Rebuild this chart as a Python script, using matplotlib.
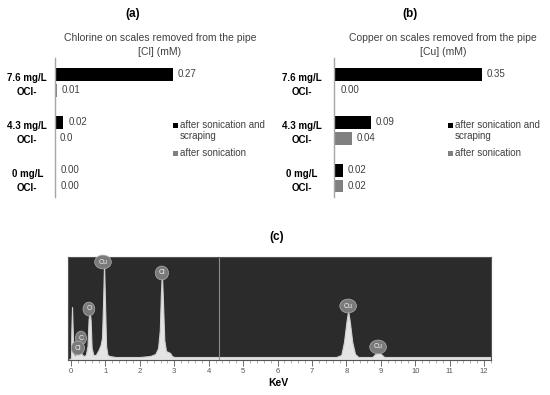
import matplotlib
matplotlib.use("Agg")
import matplotlib.pyplot as plt
import numpy as np
from matplotlib.ticker import MultipleLocator
from matplotlib.patches import Rectangle

plt.rcParams['font.family'] = ['Liberation Sans', 'DejaVu Sans']

# ---------------- data ----------------
categories = ["7.6 mg/L\nOCl-", "4.3 mg/L\nOCl-", "0 mg/L\nOCl-"]
series_names = ["after sonication and\nscraping", "after sonication"]
series_colors = ["#000000", "#808080"]

cl_scraping = [0.27, 0.019, 0.002]
cl_sonication = [0.005, 0.0, 0.001]
cl_scraping_labels = ["0.27", "0.02", "0.00"]
cl_sonication_labels = ["0.01", "0.0", "0.00"]

cu_scraping = [0.35, 0.088, 0.021]
cu_sonication = [0.003, 0.043, 0.021]
cu_scraping_labels = ["0.35", "0.09", "0.02"]
cu_sonication_labels = ["0.00", "0.04", "0.02"]

# EDS spectrum outline (keV, counts in arbitrary units)
energy = [-0.08, 0.00, 0.01, 0.03, 0.05, 0.07, 0.12, 0.18, 0.22, 0.27, 0.31, 0.36,
          0.43, 0.48, 0.51, 0.54, 0.57, 0.60, 0.65, 0.72, 0.80, 0.86, 0.90, 0.93,
          0.96, 0.99, 1.02, 1.06, 1.12, 1.3, 1.6, 2.0, 2.3, 2.45, 2.53, 2.58, 2.61,
          2.64, 2.67, 2.71, 2.76, 2.82, 2.88, 2.93, 3.0, 3.5, 4.0, 5.0, 6.0, 7.0,
          7.7, 7.85, 7.93, 8.00, 8.05, 8.10, 8.17, 8.25, 8.35, 8.5, 8.75, 8.84,
          8.92, 9.00, 9.10, 9.5, 10.5, 11.5, 12.2]
counts = [0, 2, 30, 53, 30, 6, 4, 7, 5, 9, 6, 4,
          5, 14, 40, 50, 40, 12, 5, 5, 10, 15, 22, 55,
          97, 55, 14, 5, 4, 3, 3, 3, 4, 6, 12, 30, 65,
          88, 60, 20, 9, 8, 7, 4, 3, 3, 3, 3, 3, 3,
          3, 5, 18, 38, 49, 38, 18, 6, 3, 3, 3, 6,
          8, 6, 3, 3, 3, 3, 3]

peak_labels = ["Cu", "Cl", "O", "C", "Cl", "Cu", "Cu"]
peak_label_x = [0.93, 2.64, 0.52, 0.29, 0.20, 8.05, 8.92]
peak_label_y = [98, 87, 51, 22, 12, 54, 13]

# ---------------- figure ----------------
W, H = 550, 395
fig = plt.figure(figsize=(5.5, 3.95), dpi=100)

def rect(left, top, width, height):
    return [left / W, (H - top - height) / H, width / W, height / H]

text_gray = "#404040"

def bar_panel(ax, scrape, sonic, s_labels, g_labels, xmax, pad):
    y = np.arange(len(categories))
    ax.barh(y - 0.16, scrape, height=0.27, color=series_colors[0])
    ax.barh(y + 0.17, sonic, height=0.27, color=series_colors[1])
    for yi, v, t in zip(y, scrape, s_labels):
        ax.annotate(t, (v, yi - 0.16), xytext=(3.5, 0), textcoords="offset points",
                    va="center", ha="left", fontsize=7, color=text_gray)
    for yi, v, t in zip(y, sonic, g_labels):
        ax.annotate(t, (v, yi + 0.17), xytext=(3.5, 0), textcoords="offset points",
                    va="center", ha="left", fontsize=7, color=text_gray)
    ax.set_xlim(0, xmax)
    ax.set_ylim(2.4, -0.5)
    ax.set_yticks(y)
    ax.set_yticklabels(categories, fontsize=7, fontweight="bold", ha="center",
                       linespacing=1.5)
    ax.tick_params(axis="y", length=0, pad=pad)
    ax.set_xticks([])
    for s in ["top", "right", "bottom"]:
        ax.spines[s].set_visible(False)
    ax.spines["left"].set_color("#a6a6a6")
    ax.spines["left"].set_linewidth(1.0)
    ax.patch.set_alpha(0)

ax_a = fig.add_axes(rect(55, 58, 131, 139))
bar_panel(ax_a, cl_scraping, cl_sonication, cl_scraping_labels, cl_sonication_labels,
          0.3, 20)
ax_b = fig.add_axes(rect(334, 58, 169, 139))
bar_panel(ax_b, cu_scraping, cu_sonication, cu_scraping_labels, cu_sonication_labels,
          0.4, 23)

# manual legends (marker aligned with first text line)
for mx in [175, 450]:
    for name, col, ty in zip(series_names, series_colors, [125, 153]):
        fig.add_artist(Rectangle(((mx - 2.5) / W, 1 - (ty + 2.5) / H), 5 / W, 5 / H,
                                 transform=fig.transFigure, color=col, lw=0))
        fig.text((mx + 5) / W, 1 - (ty - 5.5) / H, name, ha="left", va="top",
                 fontsize=7, color=text_gray, linespacing=1.15)

fig.text(133 / W, 1 - 14 / H, "(a)", ha="center", va="center", fontsize=8.5,
         fontweight="bold")
fig.text(410 / W, 1 - 14 / H, "(b)", ha="center", va="center", fontsize=8.5,
         fontweight="bold")
fig.text(160 / W, 1 - 45 / H, "Chlorine on scales removed from the pipe\n[Cl] (mM)",
         ha="center", va="center", fontsize=7.5, color=text_gray, linespacing=1.5)
fig.text(443 / W, 1 - 45 / H, "Copper on scales removed from the pipe\n[Cu] (mM)",
         ha="center", va="center", fontsize=7.5, color=text_gray, linespacing=1.5)

# ---------------- EDS spectrum ----------------
ax_c = fig.add_axes(rect(68, 257, 423, 103))
ax_c.set_facecolor("#2b2b2b")
ax_c.fill_between(energy, counts, 0, color="#e4e4e4", lw=0.8, edgecolor="#d0d0d0")
ax_c.axvline(4.3, color="#8c8c8c", lw=0.8)
ax_c.set_xlim(-0.087, 12.2)
ax_c.set_ylim(0, 103)
ax_c.set_yticks([])
ax_c.set_xticks(range(0, 13))
ax_c.xaxis.set_minor_locator(MultipleLocator(0.2))
ax_c.tick_params(axis="x", which="major", length=4, width=0.6, color="#555555",
                 labelsize=5.5, labelcolor="#555555", pad=1.5)
ax_c.tick_params(axis="x", which="minor", length=2, width=0.4, color="#777777")
for s in ax_c.spines.values():
    s.set_color("#555555")
    s.set_linewidth(0.8)
for t, x, y in zip(peak_labels, peak_label_x, peak_label_y):
    ax_c.text(x, y, t, ha="center", va="center", fontsize=5, color="#f0f0f0",
              bbox=dict(boxstyle="ellipse,pad=0.2", fc="#7a7a7a", ec="#b0b0b0", lw=0.5))

fig.text(277 / W, 1 - 237 / H, "(c)", ha="center", va="center", fontsize=8.5,
         fontweight="bold")
fig.text(278 / W, 1 - 383 / H, "KeV", ha="center", va="center", fontsize=7.5,
         fontweight="bold")

fig.savefig("out.png", dpi=100)
